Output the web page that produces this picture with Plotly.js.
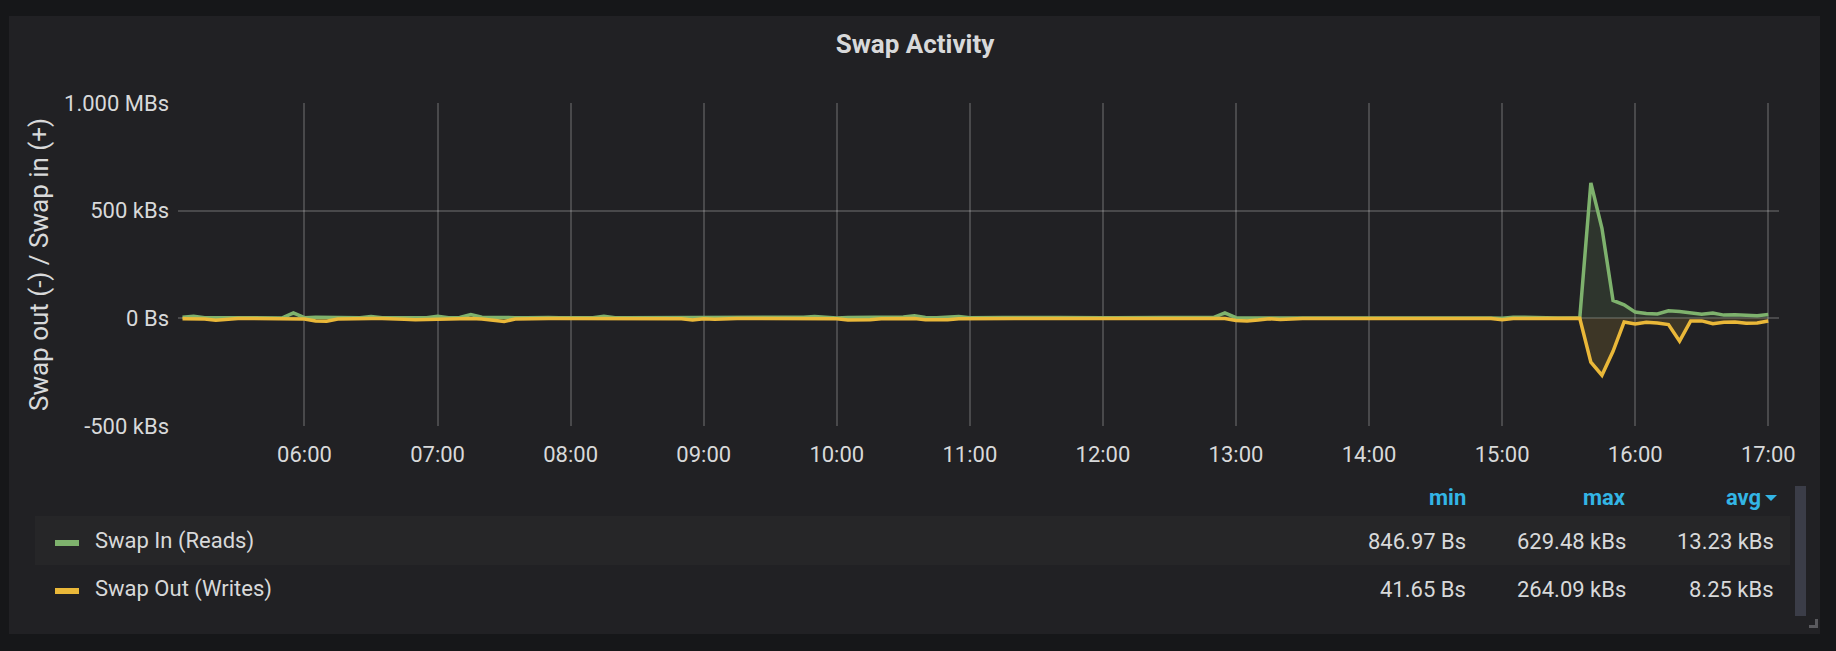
<!DOCTYPE html>
<html>
<head>
<meta charset="utf-8">
<script src="https://cdn.plot.ly/plotly-3.0.1.min.js"></script>
<style>
  html, body { margin: 0; padding: 0; background: #161719; }
  #chart { width: 1836px; height: 651px; }
</style>
</head>
<body>
<div id="chart"></div>
<script>
// ---- data (kB/s), one value every 5 minutes from 05:05 to 17:00 ----
const startTime = '2021-01-01 05:05:00';
const stepMinutes = 5;
const swapIn = [
  5, 10, 3, 3, 2, 2, 2, 2, 2, 2, 25, 3, 5, 4, 3, 3, 3, 8, 3, 3,
  3, 2, 3, 10, 3, 4, 18, 5, 3, 3, 3, 3, 5, 4, 3, 3, 3, 3, 10, 3,
  3, 3, 4, 4, 3, 2, 4, 2, 2, 3, 5, 4, 2, 5, 5, 3, 5, 8, 3, 2,
  4, 4, 3, 3, 4, 6, 12, 4, 3, 4, 8, 3, 2, 3, 4, 4, 3, 3, 4, 4,
  3, 4, 4, 3, 3, 3, 3, 3, 3, 3, 3, 4, 3, 5, 25, 3, 2, 2, 3, 3,
  3, 4, 4, 3, 6, 3, 2, 2, 3, 4, 3, 3, 3, 3, 3, 2, 2, 2, 2, 0.85,
  5, 5, 3, 2, 2, 2, 1, 629.48, 418, 83, 63, 29, 22, 20, 35, 32, 25, 18.5, 25, 15,
  17, 15, 12, 18
];
const swapOut = [
  2, 2, 3, 9, 4, 1, 1, 1, 1, 1, 1, 3, 12, 13, 3, 1, 1, 1, 1, 1,
  4, 6, 5, 2, 1, 1, 1, 3, 10, 15, 3, 1, 1, 1, 1, 1, 1, 1, 1, 1,
  1, 1, 1, 1, 1, 2, 8, 2, 4, 1, 1, 1, 1, 1, 1, 1, 1, 1, 1, 2,
  8, 8, 6, 2, 1, 1, 1, 6, 8, 6, 2, 1, 1, 1, 1, 1, 1, 1, 1, 1,
  1, 1, 1, 1, 1, 1, 1, 1, 1, 1, 1, 1, 1, 1, 1, 10, 12, 8, 2, 5,
  2, 1, 1, 1, 1, 1, 1, 1, 1, 1, 1, 1, 1, 1, 1, 1, 1, 1, 1, 6,
  1, 1, 1, 1, 1, 1, 0.04, 204, 264.09, 153, 17, 26, 18.5, 21.6, 29, 106, 12, 12, 25, 18.5,
  17, 23, 21.6, 12
];
const seriesNames = ['Swap In (Reads)', 'Swap Out (Writes)'];
const seriesColors = ['#7EB26D', '#EAB839'];
const seriesFills = ['rgba(126,178,109,0.14)', 'rgba(234,184,57,0.14)'];
const statHeaders = ['min', 'max', 'avg'];
const statMin = ['846.97 Bs', '41.65 Bs'];
const statMax = ['629.48 kBs', '264.09 kBs'];
const statAvg = ['13.23 kBs', '8.25 kBs'];
const yTickVals = [1000, 500, 0, -500];
const yTickText = ['1.000 MBs', '500 kBs', '0 Bs', '-500 kBs'];
const chartTitle = 'Swap Activity';
const yTitle = 'Swap out (-) / Swap in (+)';

// ---- time axis ----
function fmt(d) {
  const p = n => String(n).padStart(2, '0');
  return d.getFullYear() + '-' + p(d.getMonth() + 1) + '-' + p(d.getDate()) + ' ' +
         p(d.getHours()) + ':' + p(d.getMinutes()) + ':' + p(d.getSeconds());
}
const t0 = new Date(startTime.replace(' ', 'T'));
const times = swapIn.map((_, i) => fmt(new Date(t0.getTime() + i * stepMinutes * 60000)));

// ---- geometry helpers (pixel -> paper) ----
const W = 1836, H = 651;
const M = { l: 178, r: 57, t: 103, b: 225 };
const PW = W - M.l - M.r, PH = H - M.t - M.b;
const px = x => (x - M.l) / PW;
const py = y => (H - M.b - y) / PH;

const FONT = 'Roboto, "Open Sans", "Liberation Sans", sans-serif';
const TXT = '#d8d9da';
const BLUE = '#33b5e5';
const FS = 22;

const traces = [
  { x: times, y: swapIn, name: seriesNames[0], type: 'scatter', mode: 'lines',
    line: { color: seriesColors[0], width: 3.5 }, fill: 'tozeroy', fillcolor: seriesFills[0],
    hoverinfo: 'skip' },
  { x: times, y: swapOut.map(v => -v), name: seriesNames[1], type: 'scatter', mode: 'lines',
    line: { color: seriesColors[1], width: 3.5 }, fill: 'tozeroy', fillcolor: seriesFills[1],
    hoverinfo: 'skip' }
];

const shapes = [];
const annotations = [];

// panel background
shapes.push({ type: 'rect', xref: 'paper', yref: 'paper', layer: 'below',
  x0: px(9), x1: px(1820), y0: py(16), y1: py(634),
  fillcolor: '#212124', line: { width: 0 } });
// highlighted legend row
shapes.push({ type: 'rect', xref: 'paper', yref: 'paper', layer: 'below',
  x0: px(35), x1: px(1790), y0: py(516), y1: py(565),
  fillcolor: '#262628', line: { width: 0 } });
// scrollbar
shapes.push({ type: 'rect', xref: 'paper', yref: 'paper', layer: 'above',
  x0: px(1795), x1: px(1806), y0: py(486), y1: py(616),
  fillcolor: '#3b3d48', line: { width: 0 } });
// resize handle
shapes.push({ type: 'path', xref: 'paper', yref: 'paper', layer: 'above',
  path: 'M' + px(1809) + ',' + py(628) + ' L' + px(1818) + ',' + py(628) + ' L' + px(1818) + ',' + py(619) +
        ' L' + px(1815) + ',' + py(619) + ' L' + px(1815) + ',' + py(625) + ' L' + px(1809) + ',' + py(625) + ' Z',
  fillcolor: '#5a5a5e', line: { width: 0 } });
// sort caret next to avg
shapes.push({ type: 'path', xref: 'paper', yref: 'paper', layer: 'above',
  path: 'M' + px(1765) + ',' + py(495) + ' L' + px(1777) + ',' + py(495) + ' L' + px(1771) + ',' + py(501) + ' Z',
  fillcolor: BLUE, line: { width: 0 } });

// legend header
const colRight = [1468, 1628, 1763];
const valRight = [1468, 1628, 1776];
statHeaders.forEach((h, k) => {
  annotations.push({ xref: 'paper', yref: 'paper', x: px(colRight[k]), y: py(498),
    xanchor: 'right', yanchor: 'middle', showarrow: false, text: '<b>' + h + '</b>',
    font: { family: FONT, size: FS, color: BLUE } });
});
const rowY = [541, 589];
seriesNames.forEach((n, i) => {
  shapes.push({ type: 'rect', xref: 'paper', yref: 'paper', layer: 'above',
    x0: px(55), x1: px(79), y0: py(rowY[i] - 1), y1: py(rowY[i] + 5),
    fillcolor: seriesColors[i], line: { width: 0 } });
  annotations.push({ xref: 'paper', yref: 'paper', x: px(93), y: py(rowY[i]),
    xanchor: 'left', yanchor: 'middle', showarrow: false, text: n,
    font: { family: FONT, size: FS, color: TXT } });
  [statMin[i], statMax[i], statAvg[i]].forEach((v, k) => {
    annotations.push({ xref: 'paper', yref: 'paper', x: px(valRight[k]), y: py(rowY[i]),
      xanchor: 'right', yanchor: 'middle', showarrow: false, text: v,
      font: { family: FONT, size: FS, color: TXT } });
  });
});

const layout = {
  width: W, height: H,
  margin: M,
  paper_bgcolor: '#161719',
  plot_bgcolor: 'rgba(0,0,0,0)',
  showlegend: false,
  font: { family: FONT, size: FS, color: TXT },
  title: { text: chartTitle, x: 915 / W, xanchor: 'center', y: 1 - 44 / H, yanchor: 'middle',
           font: { family: FONT, size: 26, color: TXT, weight: 'bold' } },
  xaxis: {
    type: 'date',
    range: ['2021-01-01 05:02:58', '2021-01-01 17:04:50'],
    tick0: '2021-01-01 06:00:00', dtick: 3600000, tickformat: '%H:%M',
    showgrid: true, gridcolor: 'rgba(255,255,255,0.18)', gridwidth: 2,
    zeroline: false, showline: false, ticks: '',
    ticklabelstandoff: 13,
    tickfont: { family: FONT, size: FS, color: TXT },
    fixedrange: true
  },
  yaxis: {
    range: [-500, 1000],
    tickvals: yTickVals, ticktext: yTickText,
    showgrid: true, gridcolor: 'rgba(255,255,255,0.18)', gridwidth: 2,
    zeroline: false, showline: false, ticks: '',
    ticklabelstandoff: 8,
    tickfont: { family: FONT, size: FS, color: TXT },
    title: { text: yTitle, standoff: 7, font: { family: FONT, size: 26, color: TXT } },
    automargin: false,
    fixedrange: true
  },
  shapes: shapes,
  annotations: annotations
};

Plotly.newPlot('chart', traces, layout, { displayModeBar: false, staticPlot: true });
</script>
</body>
</html>
